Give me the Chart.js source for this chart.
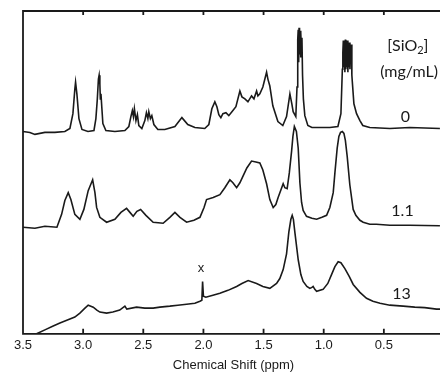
<!DOCTYPE html>
<html>
<head>
<meta charset="utf-8">
<script src="https://cdn.jsdelivr.net/npm/chart.js@4.4.1/dist/chart.umd.min.js"></script>
<style>
  html, body { margin: 0; padding: 0; background: #fff; overflow: hidden; }
  #wrap { width: 452px; height: 373px; }
</style>
</head>
<body>
<div id="wrap"><canvas id="nmr" width="452" height="373"></canvas></div>
<script>
// chemical shift (ppm) and intensity (a.u., traces already offset) for each SiO2 loading
const shift0 = [3.50, 3.443, 3.401, 3.318, 3.235, 3.152, 3.110, 3.085, 3.069, 3.063, 3.052, 3.035, 3.010, 2.960, 2.910,
  2.894, 2.882, 2.873, 2.867, 2.861, 2.857, 2.852, 2.844, 2.836, 2.811, 2.736, 2.653, 2.620, 2.603, 2.591, 2.582, 2.574,
  2.561, 2.549, 2.537, 2.512, 2.487, 2.474, 2.462, 2.454, 2.441, 2.429, 2.412, 2.379, 2.321, 2.237, 2.179, 2.130, 2.071,
  1.989, 1.955, 1.930, 1.905, 1.888, 1.872, 1.855, 1.838, 1.813, 1.789, 1.763, 1.730, 1.697, 1.680, 1.655, 1.630, 1.600,
  1.580, 1.558, 1.547, 1.531, 1.506, 1.475, 1.464, 1.448, 1.423, 1.381, 1.340, 1.309, 1.281, 1.265, 1.254, 1.232,
  1.222, 1.216, 1.212, 1.208, 1.205, 1.201, 1.197, 1.193, 1.189, 1.185, 1.181, 1.176,
  1.169, 1.157, 1.132, 1.098, 1.032, 0.949, 0.882, 0.857, 0.845, 0.841, 0.837, 0.833, 0.828, 0.824, 0.820, 0.816,
  0.812, 0.807, 0.803, 0.799, 0.795, 0.791, 0.787, 0.782, 0.778, 0.774, 0.770, 0.766, 0.762,
  0.749, 0.727, 0.699, 0.675, 0.617, 0.450, 0.284, 0.034];
const signal0 = [205, 204, 202, 204, 204, 205, 208, 223, 248, 255, 243, 218, 207, 205, 206,
  218, 238, 258, 262, 253, 238, 243, 228, 213, 206, 205, 206, 210, 220, 226, 220, 228,
  216, 222, 211, 208, 216, 224, 218, 225, 218, 221, 212, 207, 207, 210, 219, 212, 209,
  208, 212, 228, 235, 230, 222, 219, 223, 224, 221, 225, 230, 246, 240, 238, 235, 241,
  238, 246, 241, 243, 250, 265, 258, 251, 231, 215, 211, 220, 243, 233, 225, 220,
  250, 298, 308, 275, 310, 283, 307, 280, 305, 288, 300, 262,
  238, 221, 211, 209, 209, 209, 210, 223, 268, 285, 297, 270, 296, 265, 298, 268,
  294, 270, 297, 265, 293, 270, 295, 268, 290, 275, 293, 262, 255,
  233, 223, 216, 211, 209, 208, 209, 208];

const shift1 = [3.50, 3.401, 3.318, 3.218, 3.179, 3.152, 3.124, 3.102, 3.069, 3.027, 2.994, 2.958, 2.921, 2.902, 2.888,
  2.861, 2.805, 2.736, 2.686, 2.639, 2.611, 2.584, 2.553, 2.522, 2.478, 2.418, 2.335, 2.279, 2.237, 2.195, 2.140, 2.079,
  2.029, 1.995, 1.974, 1.919, 1.863, 1.822, 1.780, 1.755, 1.724, 1.697, 1.670, 1.639, 1.600, 1.564, 1.531, 1.506, 1.475,
  1.448, 1.420, 1.398, 1.379, 1.337, 1.323, 1.304, 1.286, 1.267, 1.256, 1.244, 1.227, 1.212, 1.198, 1.184, 1.171, 1.143,
  1.098, 1.059, 1.015, 0.976, 0.949, 0.921, 0.907, 0.888, 0.874, 0.860, 0.845, 0.832, 0.820, 0.805, 0.783, 0.755, 0.733,
  0.699, 0.672, 0.617, 0.562, 0.450, 0.284, 0.034];
const signal1 = [108, 107, 109, 108, 121, 135, 143, 136, 121, 116, 126, 145, 156, 143, 128,
  118, 113, 116, 123, 127, 123, 119, 124, 126, 120, 113, 112, 118, 123, 118, 113, 115,
  118, 128, 136, 138, 141, 148, 156, 153, 148, 153, 160, 168, 175, 174, 173, 166, 152,
  136, 128, 131, 138, 152, 148, 147, 163, 185, 200, 210, 205, 188, 153, 133, 125, 119,
  117, 116, 118, 120, 128, 143, 163, 188, 200, 204, 205, 203, 196, 180, 151, 126, 120,
  115, 113, 111, 111, 110, 110, 109.5];

const shift13 = [3.443, 3.387, 3.318, 3.249, 3.193, 3.110, 3.069, 3.027, 2.985, 2.958, 2.936, 2.916, 2.886, 2.861, 2.805,
  2.753, 2.696, 2.653, 2.637, 2.556, 2.487, 2.418, 2.362, 2.279, 2.213, 2.140, 2.071, 2.029, 2.013, 2.007, 2.000, 1.980,
  1.921, 1.863, 1.796, 1.724, 1.680, 1.628, 1.558, 1.506, 1.448, 1.392, 1.365, 1.337, 1.309, 1.290, 1.273, 1.262, 1.252,
  1.240, 1.212, 1.190, 1.171, 1.140, 1.115, 1.098, 1.088, 1.074, 1.059, 1.005, 0.966, 0.935, 0.907, 0.880, 0.857, 0.824,
  0.787, 0.755, 0.699, 0.644, 0.591, 0.532, 0.450, 0.340, 0.243, 0.160, 0.062, 0.018];
const signal13 = [-3, 0, 4, 8, 11, 15, 17, 21, 26, 29, 28, 27, 24, 22, 21,
  22, 24, 28, 25, 27, 26, 26, 27, 28, 29, 30, 31, 33, 34, 53, 38, 37,
  39, 41, 44, 48, 51, 54, 51, 48, 46, 51, 56, 65, 81, 103, 116, 120, 116,
  103, 75, 60, 53, 48, 46, 47, 48, 45, 43, 45, 51, 60, 68, 73, 72, 66,
  58, 50, 42, 36, 33, 31, 29, 28, 27, 26.5, 25, 25];

const traceNames = ['0', '1.1', '13'];
const axisTicks = [3.5, 3, 2.5, 2, 1.5, 1, 0.5, 0];

const ink = '#1a1a1a';

function toPoints(xs, ys) {
  return ys.map((y, i) => ({ x: xs[i], y: y }));
}

// frame with inward ticks + the text labels on the traces
const framePlugin = {
  id: 'frame',
  afterDatasetsDraw(chart) {
    const { ctx, chartArea: a, scales: { x, y } } = chart;
    ctx.save();
    ctx.strokeStyle = ink;
    ctx.lineWidth = 1.8;
    ctx.beginPath();
    ctx.moveTo(a.right + 5, a.top);
    ctx.lineTo(a.left, a.top);
    ctx.lineTo(a.left, a.bottom);
    ctx.lineTo(a.right + 5, a.bottom);
    axisTicks.forEach(v => {
      const px = x.getPixelForValue(v);
      ctx.moveTo(px, a.top);
      ctx.lineTo(px, a.top + 4);
      ctx.moveTo(px, a.bottom);
      ctx.lineTo(px, a.bottom - 5);
    });
    ctx.stroke();

    ctx.fillStyle = ink;
    ctx.textAlign = 'center';
    ctx.textBaseline = 'middle';
    ctx.font = '16px Lato';
    const lx = x.getPixelForValue(0.32);
    ctx.fillText(traceNames[0], lx, y.getPixelForValue(220));
    ctx.fillText(traceNames[1], lx - 3, y.getPixelForValue(125));
    ctx.fillText(traceNames[2], lx - 4, y.getPixelForValue(40));

    // [SiO2] with subscript
    const cx = x.getPixelForValue(0.3);
    const cy = y.getPixelForValue(292);
    ctx.textAlign = 'left';
    const w1 = ctx.measureText('[SiO').width;
    ctx.font = '11px Lato';
    const w2 = ctx.measureText('2').width;
    ctx.font = '16px Lato';
    const w3 = ctx.measureText(']').width;
    let sx = cx - (w1 + w2 + w3) / 2;
    ctx.fillText('[SiO', sx, cy);
    ctx.font = '11px Lato';
    ctx.fillText('2', sx + w1, cy + 5);
    ctx.font = '16px Lato';
    ctx.fillText(']', sx + w1 + w2, cy);
    ctx.textAlign = 'center';
    ctx.fillText('(mg/mL)', x.getPixelForValue(0.29), y.getPixelForValue(265));

    ctx.font = '13px "Liberation Sans"';
    ctx.fillText('x', x.getPixelForValue(2.02), y.getPixelForValue(66));
    ctx.restore();
  }
};

const ctx = document.getElementById('nmr').getContext('2d');

const nmrChart = new Chart(ctx, {
  type: 'line',
  data: {
    datasets: [
      { label: traceNames[0], data: toPoints(shift0, signal0) },
      { label: traceNames[1], data: toPoints(shift1, signal1) },
      { label: traceNames[2], data: toPoints(shift13, signal13) }
    ]
  },
  options: {
    responsive: false,
    animation: false,
    devicePixelRatio: 1,
    layout: { padding: { left: 23, top: 11, right: 8, bottom: 0 } },
    elements: {
      point: { radius: 0 },
      line: { borderColor: ink, borderWidth: 1.6, tension: 0, fill: false }
    },
    plugins: {
      legend: { display: false },
      tooltip: { enabled: false }
    },
    scales: {
      x: {
        type: 'linear',
        reverse: true,
        min: 0,
        max: 3.5,
        grid: { display: false, drawTicks: false },
        border: { display: false },
        ticks: {
          stepSize: 0.5,
          padding: 4,
          color: ink,
          font: { family: '"Liberation Sans", Arial', size: 13 }
        },
        title: {
          display: true,
          text: 'Chemical Shift (ppm)',
          color: ink,
          padding: { top: 0, bottom: 0 },
          font: { family: '"Liberation Sans", Arial', size: 13 }
        }
      },
      y: {
        display: false,
        min: 0,
        max: 327
      }
    }
  },
  plugins: [framePlugin]
});
</script>
</body>
</html>
